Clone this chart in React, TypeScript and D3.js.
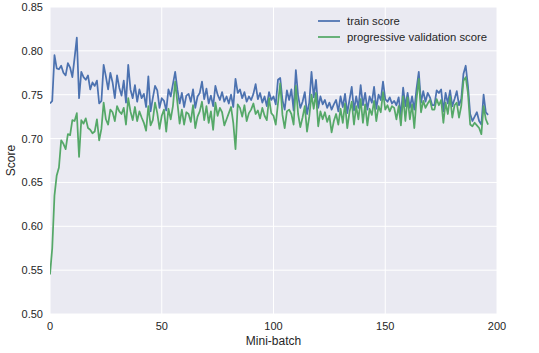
import React from "react";
import * as d3 from "d3";

const trainScore: number[] = [
  0.740, 0.743, 0.795, 0.780, 0.779, 0.783, 0.775, 0.772, 0.786, 0.781,
  0.770, 0.792, 0.815, 0.746, 0.776, 0.770, 0.767, 0.772, 0.756, 0.764,
  0.760, 0.766, 0.740, 0.743, 0.784, 0.771, 0.756, 0.775, 0.764, 0.746,
  0.772, 0.758, 0.749, 0.766, 0.741, 0.784, 0.756, 0.746, 0.761, 0.742,
  0.756, 0.746, 0.751, 0.736, 0.771, 0.731, 0.746, 0.760, 0.755, 0.735,
  0.746, 0.743, 0.732, 0.756, 0.748, 0.762, 0.776, 0.756, 0.740, 0.752,
  0.736, 0.749, 0.751, 0.742, 0.756, 0.735, 0.748, 0.752, 0.765, 0.745,
  0.757, 0.740, 0.749, 0.737, 0.760, 0.750, 0.744, 0.753, 0.742, 0.748,
  0.740, 0.750, 0.736, 0.768, 0.752, 0.756, 0.746, 0.753, 0.742, 0.748,
  0.744, 0.751, 0.762, 0.745, 0.752, 0.741, 0.748, 0.737, 0.753, 0.744,
  0.748, 0.739, 0.767, 0.769, 0.744, 0.733, 0.755, 0.744, 0.756, 0.732,
  0.778, 0.749, 0.735, 0.742, 0.753, 0.728, 0.741, 0.776, 0.747, 0.767,
  0.735, 0.748, 0.739, 0.744, 0.735, 0.741, 0.733, 0.739, 0.744, 0.731,
  0.748, 0.736, 0.751, 0.729, 0.744, 0.759, 0.732, 0.748, 0.735, 0.761,
  0.738, 0.752, 0.733, 0.748, 0.741, 0.759, 0.734, 0.750, 0.744, 0.765,
  0.745, 0.742, 0.747, 0.740, 0.743, 0.738, 0.747, 0.726, 0.758, 0.737,
  0.752, 0.735, 0.748, 0.733, 0.757, 0.776, 0.741, 0.754, 0.742, 0.752,
  0.747, 0.738, 0.738, 0.755, 0.752, 0.756, 0.731, 0.752, 0.740, 0.755,
  0.737, 0.745, 0.754, 0.738, 0.745, 0.774, 0.783, 0.760, 0.728, 0.720,
  0.725, 0.730, 0.720, 0.716, 0.750, 0.730, 0.727,
];

const validationScore: number[] = [
  0.545, 0.575, 0.635, 0.658, 0.667, 0.698, 0.694, 0.688, 0.705, 0.704,
  0.721, 0.720, 0.729, 0.679, 0.721, 0.717, 0.723, 0.712, 0.710, 0.706,
  0.708, 0.722, 0.698, 0.711, 0.741, 0.722, 0.716, 0.733, 0.730, 0.720,
  0.737, 0.731, 0.728, 0.735, 0.716, 0.746, 0.731, 0.721, 0.736, 0.720,
  0.731, 0.724, 0.718, 0.709, 0.737, 0.715, 0.721, 0.741, 0.729, 0.711,
  0.726, 0.733, 0.708, 0.734, 0.722, 0.737, 0.765, 0.741, 0.717, 0.733,
  0.716, 0.730, 0.728, 0.719, 0.738, 0.712, 0.725, 0.731, 0.742, 0.721,
  0.737, 0.718, 0.731, 0.710, 0.741, 0.726, 0.735, 0.730, 0.715, 0.722,
  0.729, 0.736, 0.718, 0.688, 0.739, 0.735, 0.725, 0.738, 0.720, 0.729,
  0.733, 0.740, 0.728, 0.732, 0.723, 0.735, 0.726, 0.721, 0.746, 0.729,
  0.726, 0.716, 0.740, 0.763, 0.727, 0.712, 0.731, 0.733, 0.728, 0.716,
  0.760, 0.728, 0.713, 0.724, 0.737, 0.708, 0.725, 0.750, 0.734, 0.752,
  0.714, 0.731, 0.722, 0.730, 0.719, 0.726, 0.707, 0.720, 0.728, 0.716,
  0.734, 0.718, 0.740, 0.712, 0.730, 0.742, 0.716, 0.737, 0.722, 0.745,
  0.718, 0.739, 0.715, 0.734, 0.727, 0.743, 0.720, 0.737, 0.730, 0.753,
  0.733, 0.738, 0.731, 0.737, 0.735, 0.722, 0.737, 0.715, 0.748, 0.720,
  0.747, 0.722, 0.739, 0.712, 0.745, 0.768, 0.730, 0.743, 0.735, 0.740,
  0.744, 0.733, 0.733, 0.745, 0.738, 0.744, 0.718, 0.741, 0.728, 0.748,
  0.724, 0.738, 0.741, 0.724, 0.737, 0.766, 0.770, 0.752, 0.716, 0.714,
  0.718, 0.715, 0.712, 0.705, 0.737, 0.722, 0.716,
];

const xTicks: number[] = [0, 50, 100, 150, 200];
const yTicks: number[] = [0.5, 0.55, 0.6, 0.65, 0.7, 0.75, 0.8, 0.85];
const seriesNames: string[] = ["train score", "progressive validation score"];
const seriesColors: string[] = ["#4C72B0", "#55A868"];

const W = 539;
const H = 353;
const margin = { left: 50, right: 42, top: 7, bottom: 39 };
const FONT = "'Liberation Sans', Arial, sans-serif";

export default function App() {
  const x = d3.scaleLinear().domain([0, 200]).range([margin.left, W - margin.right]);
  const y = d3.scaleLinear().domain([0.5, 0.85]).range([H - margin.bottom, margin.top]);
  const line = d3
    .line<number>()
    .x((_, i) => x(i))
    .y((d) => y(d));
  const series = [trainScore, validationScore];
  const [x0, x1] = x.range();
  const [y0, y1] = y.range();

  return (
    <svg
      width={W}
      height={H}
      style={{ position: "absolute", left: 0, top: 0, background: "#fff" }}
      fontFamily={FONT}
    >
      <rect x={x0} y={y1} width={x1 - x0} height={y0 - y1} fill="#EAEAF2" />
      {xTicks.map((t) => (
        <line key={"gx" + t} x1={x(t)} x2={x(t)} y1={y1} y2={y0} stroke="#fff" strokeWidth={1} />
      ))}
      {yTicks.map((t) => (
        <line key={"gy" + t} x1={x0} x2={x1} y1={y(t)} y2={y(t)} stroke="#fff" strokeWidth={1} />
      ))}
      <defs>
        <clipPath id="plotclip">
          <rect x={x0} y={y1} width={x1 - x0} height={y0 - y1} />
        </clipPath>
      </defs>
      <g clipPath="url(#plotclip)">
        {series.map((s, i) => (
          <path
            key={i}
            d={line(s) || ""}
            fill="none"
            stroke={seriesColors[i]}
            strokeWidth={1.75}
            strokeLinejoin="round"
          />
        ))}
      </g>
      {xTicks.map((t) => (
        <text key={"tx" + t} x={x(t)} y={y0 + 16} fontSize={11} fill="#262626" textAnchor="middle">
          {t}
        </text>
      ))}
      {yTicks.map((t) => (
        <text key={"ty" + t} x={x0 - 7} y={y(t) + 4} fontSize={11} fill="#262626" textAnchor="end">
          {t.toFixed(2)}
        </text>
      ))}
      <text x={(x0 + x1) / 2} y={H - 8} fontSize={12} fill="#262626" textAnchor="middle">
        Mini-batch
      </text>
      <text
        transform={`translate(15, ${(y0 + y1) / 2}) rotate(-90)`}
        fontSize={12}
        fill="#262626"
        textAnchor="middle"
      >
        Score
      </text>
      {seriesNames.map((n, i) => (
        <g key={n} transform={`translate(318, ${21 + i * 16})`}>
          <line x1={0} x2={22} y1={0} y2={0} stroke={seriesColors[i]} strokeWidth={1.75} />
          <text x={29} y={4} fontSize={11.3} fill="#262626">
            {n}
          </text>
        </g>
      ))}
    </svg>
  );
}
